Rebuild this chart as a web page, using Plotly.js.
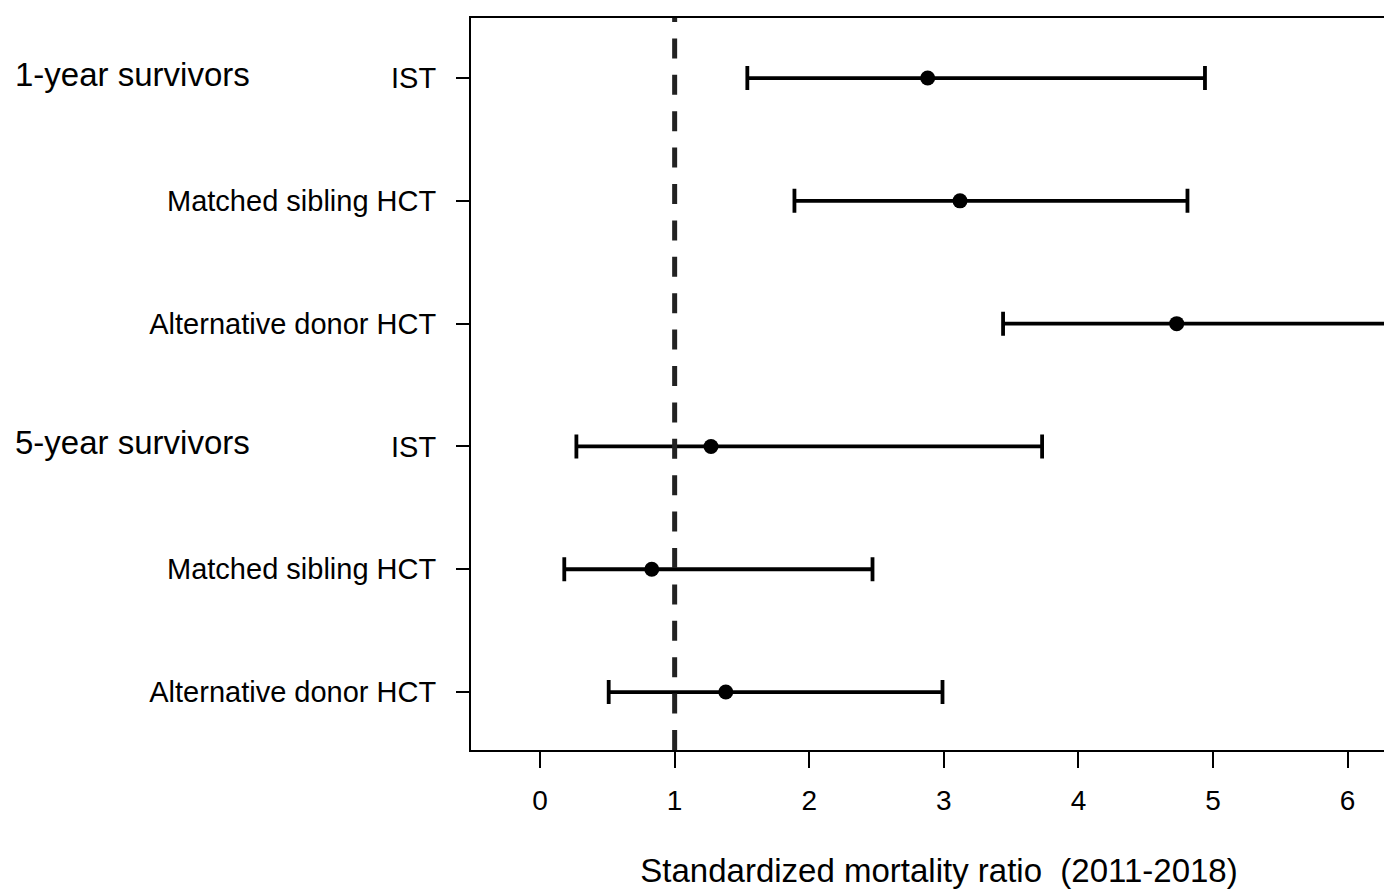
<!DOCTYPE html>
<html>
<head>
<meta charset="utf-8">
<script src="https://cdn.plot.ly/plotly-3.0.1.min.js"></script>
<style>
html, body { margin: 0; padding: 0; overflow: hidden; background: #fff; }
#chart { width: 1410px; height: 889px; }
</style>
</head>
<body>
<div id="chart"></div>
<script>
// Data
const rowLabels = ["IST", "Matched sibling HCT", "Alternative donor HCT",
                   "IST", "Matched sibling HCT", "Alternative donor HCT"];
const rowPos = [6, 5, 4, 3, 2, 1];
const smr   = [2.88, 3.12, 4.73, 1.27, 0.83, 1.38];
const lower = [1.54, 1.89, 3.44, 0.27, 0.18, 0.51];
const upper = [4.94, 4.81, 7.20, 3.73, 2.47, 2.99];
const groupLabels = ["1-year survivors", "5-year survivors"];
const groupPos = [6, 3];
const xTicks = [0, 1, 2, 3, 4, 5, 6];
const refValue = 1;

const font = "Liberation Sans, Arial, Helvetica, sans-serif";

const trace = {
  type: "scatter",
  mode: "markers",
  x: smr,
  y: rowPos,
  marker: { color: "#000", size: 15, symbol: "circle" },
  error_x: {
    type: "data",
    symmetric: false,
    array: upper.map((u, i) => u - smr[i]),
    arrayminus: lower.map((l, i) => smr[i] - l),
    color: "#000",
    thickness: 3.8,
    width: 12
  },
  hoverinfo: "x+y",
  showlegend: false
};

const layout = {
  width: 1410,
  height: 889,
  margin: { l: 471, r: 3, t: 18, b: 139, pad: 0 },
  paper_bgcolor: "#fff",
  plot_bgcolor: "#fff",
  font: { family: font, color: "#000", size: 28 },
  showlegend: false,
  xaxis: {
    range: [-0.513, 6.441],
    tickvals: xTicks,
    ticktext: xTicks.map(String),
    ticks: "outside",
    ticklen: 16,
    tickwidth: 2,
    tickcolor: "#000",
    ticklabelstandoff: 8,
    tickfont: { family: font, size: 28, color: "#000" },
    showgrid: false,
    zeroline: false,
    showline: true,
    mirror: true,
    linecolor: "#000",
    linewidth: 2,
    title: { text: "Standardized mortality ratio  (2011-2018)", font: { family: font, size: 33, color: "#000" }, standoff: 47 }
  },
  yaxis: {
    range: [0.528, 6.489],
    tickvals: rowPos,
    ticktext: rowLabels,
    ticks: "outside",
    ticklen: 13,
    tickwidth: 2,
    tickcolor: "#000",
    ticklabelstandoff: 14,
    tickfont: { family: font, size: 29, color: "#000" },
    showgrid: false,
    zeroline: false,
    showline: true,
    mirror: true,
    linecolor: "#000",
    linewidth: 2
  },
  shapes: [{
    type: "line",
    xref: "x", yref: "paper",
    x0: refValue, x1: refValue, y0: 0, y1: 1,
    line: { color: "#222", width: 5, dash: "20px,16.4px" },
    layer: "above"
  }],
  annotations: groupLabels.map((t, i) => ({
    text: t,
    xref: "paper", yref: "y",
    x: 0, y: groupPos[i],
    xshift: -458,
    yshift: 4,
    xanchor: "left", yanchor: "middle",
    showarrow: false,
    font: { family: font, size: 33, color: "#000" }
  }))
};

Plotly.newPlot("chart", [trace], layout, { displayModeBar: false, staticPlot: true });
</script>
</body>
</html>
